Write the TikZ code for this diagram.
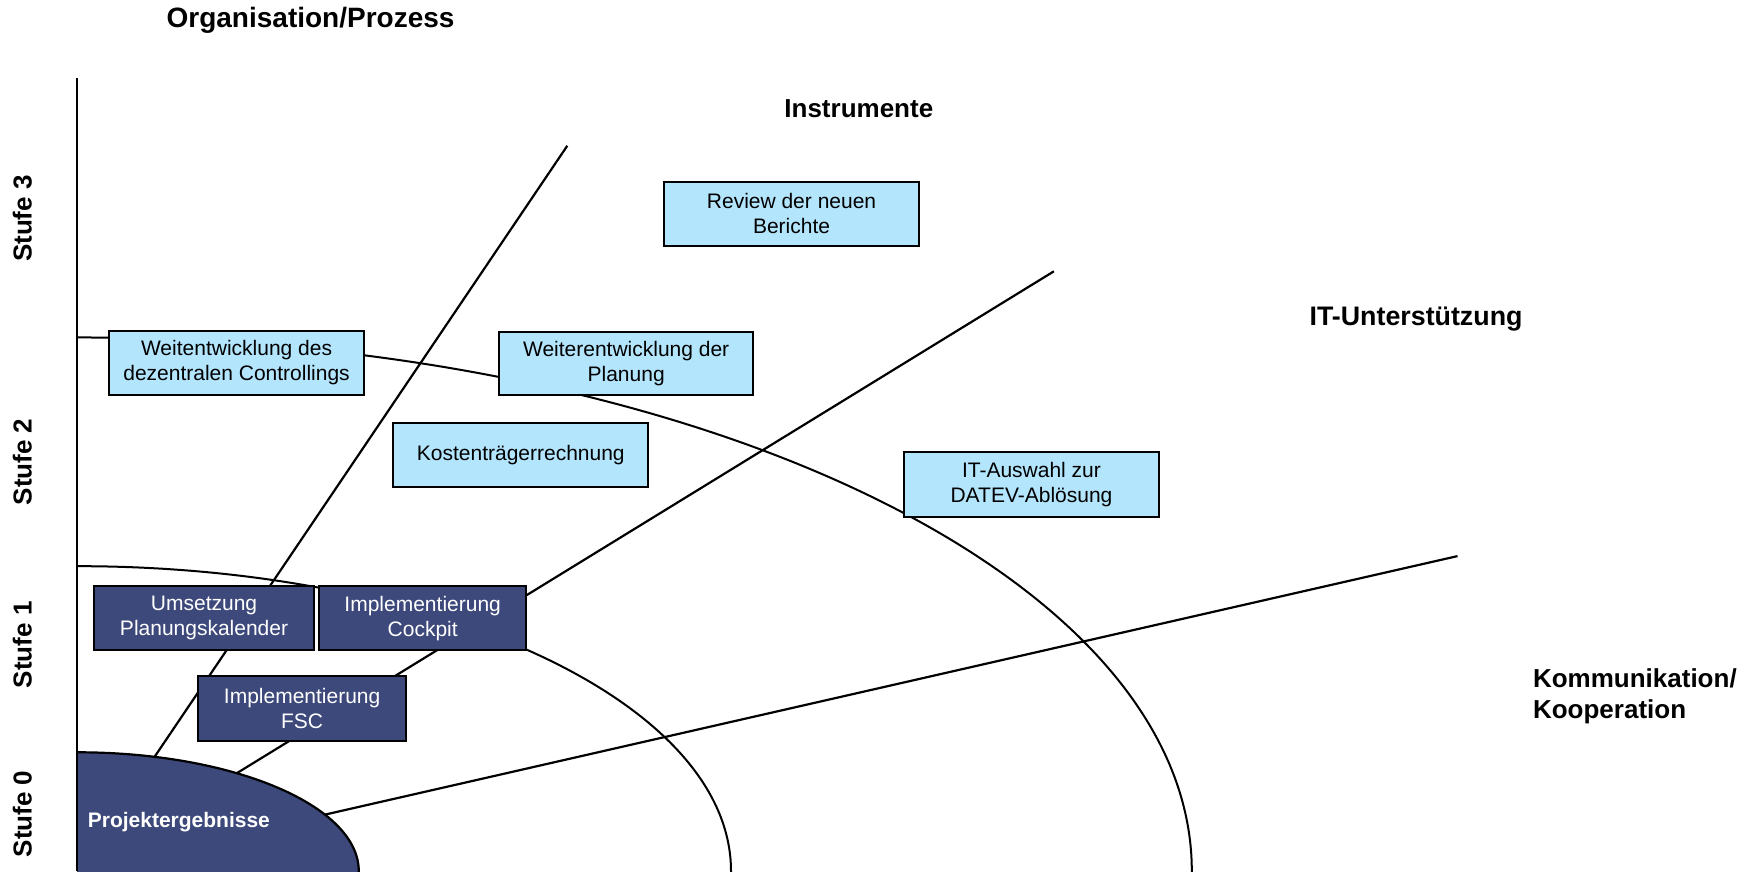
\documentclass[tikz,border=0pt]{standalone}
\usepackage{fontspec}
\setmainfont{Liberation Sans}
\definecolor{lightbox}{RGB}{179,229,253}
\definecolor{darkbox}{RGB}{61,73,123}
\begin{document}
\begin{tikzpicture}[x=0.5606pt, y=0.5606pt,
  lbox/.style={draw=black, line width=1pt, fill=lightbox, inner sep=0pt, align=center,
    font=\fontsize{10.5}{12.5}\selectfont, text=black},
  dbox/.style={lbox, fill=darkbox, text=white},
  lbl/.style={font=\fontsize{13}{15.7}\selectfont\bfseries, inner sep=0pt},
  ray/.style={line width=1.1pt},
  ring/.style={line width=1pt}]
\useasboundingbox (0,0) rectangle (1568,777);
\coordinate (O) at (69,0);
\coordinate (top) at (69,707);
\coordinate (e1) at (506,647);
\coordinate (e2) at (940,535);
\coordinate (e3) at (1300,281);
% rings
\begin{scope}
  \clip (69,0) rectangle (1568,777);
  \draw[ring] (O) ellipse [x radius=994, y radius=476];
  \draw[ring] (O) ellipse [x radius=583, y radius=272];
\end{scope}
% rays
\draw[ray] (O) -- (e1);
\draw[ray] (O) -- (e2);
\draw[ray] (O) -- (e3);
% core
\begin{scope}
  \clip (69,0) rectangle (1568,777);
  \filldraw[fill=darkbox, draw=black, line width=1.1pt] (O) ellipse [x radius=251, y radius=106];
\end{scope}
\draw[ray] (O) -- (top);
\node[lbl, text=white, font=\fontsize{10.5}{12.5}\selectfont\bfseries, anchor=west] (pe) at (78,44) {Projektergebnisse};
% axis labels
\node[lbl, font=\fontsize{14}{16.8}\selectfont\bfseries] (org) at (277,759) {Organisation/Prozess};
\node[lbl] (instr) at (766,680) {Instrumente};
\node[lbl, font=\fontsize{13.4}{16}\selectfont\bfseries] (itu) at (1263,492) {IT-Unterstützung};
\node[lbl, anchor=west, align=left] (komm) at (1367,156) {Kommunikation/\\Kooperation};
\node[lbl, rotate=90] (s3) at (20,582) {Stufe 3};
\node[lbl, rotate=90] (s2) at (20,365) {Stufe 2};
\node[lbl, rotate=90] (s1) at (20,202) {Stufe 1};
\node[lbl, rotate=90] (s0) at (20,51) {Stufe 0};
% boxes
\node[lbox, minimum width=127.8pt, minimum height=32pt] (review) at (706,586.5) {Review der neuen\\Berichte};
\node[lbox, minimum width=127.8pt, minimum height=32pt] (weit) at (211,453.5) {Weitentwicklung des\\dezentralen Controllings};
\node[lbox, minimum width=127.3pt, minimum height=31.4pt] (weiter) at (558.5,453) {Weiterentwicklung der\\Planung};
\node[lbox, minimum width=127.3pt, minimum height=32pt] (kosten) at (464.5,371.5) {Kostenträgerrechnung};
\node[lbox, minimum width=127.8pt, minimum height=32.5pt] (itaus) at (920,345) {IT-Auswahl zur\\DATEV-Ablösung};
\node[dbox, minimum width=109.9pt, minimum height=32pt] (umsetz) at (182,225.5) {Umsetzung\\Planungskalender};
\node[dbox, minimum width=103.2pt, minimum height=32pt] (cockpit) at (377,225.5) {Implementierung\\Cockpit};
\node[dbox, minimum width=103.7pt, minimum height=32.5pt] (fsc) at (269.5,145) {Implementierung\\FSC};
\end{tikzpicture}
\end{document}
